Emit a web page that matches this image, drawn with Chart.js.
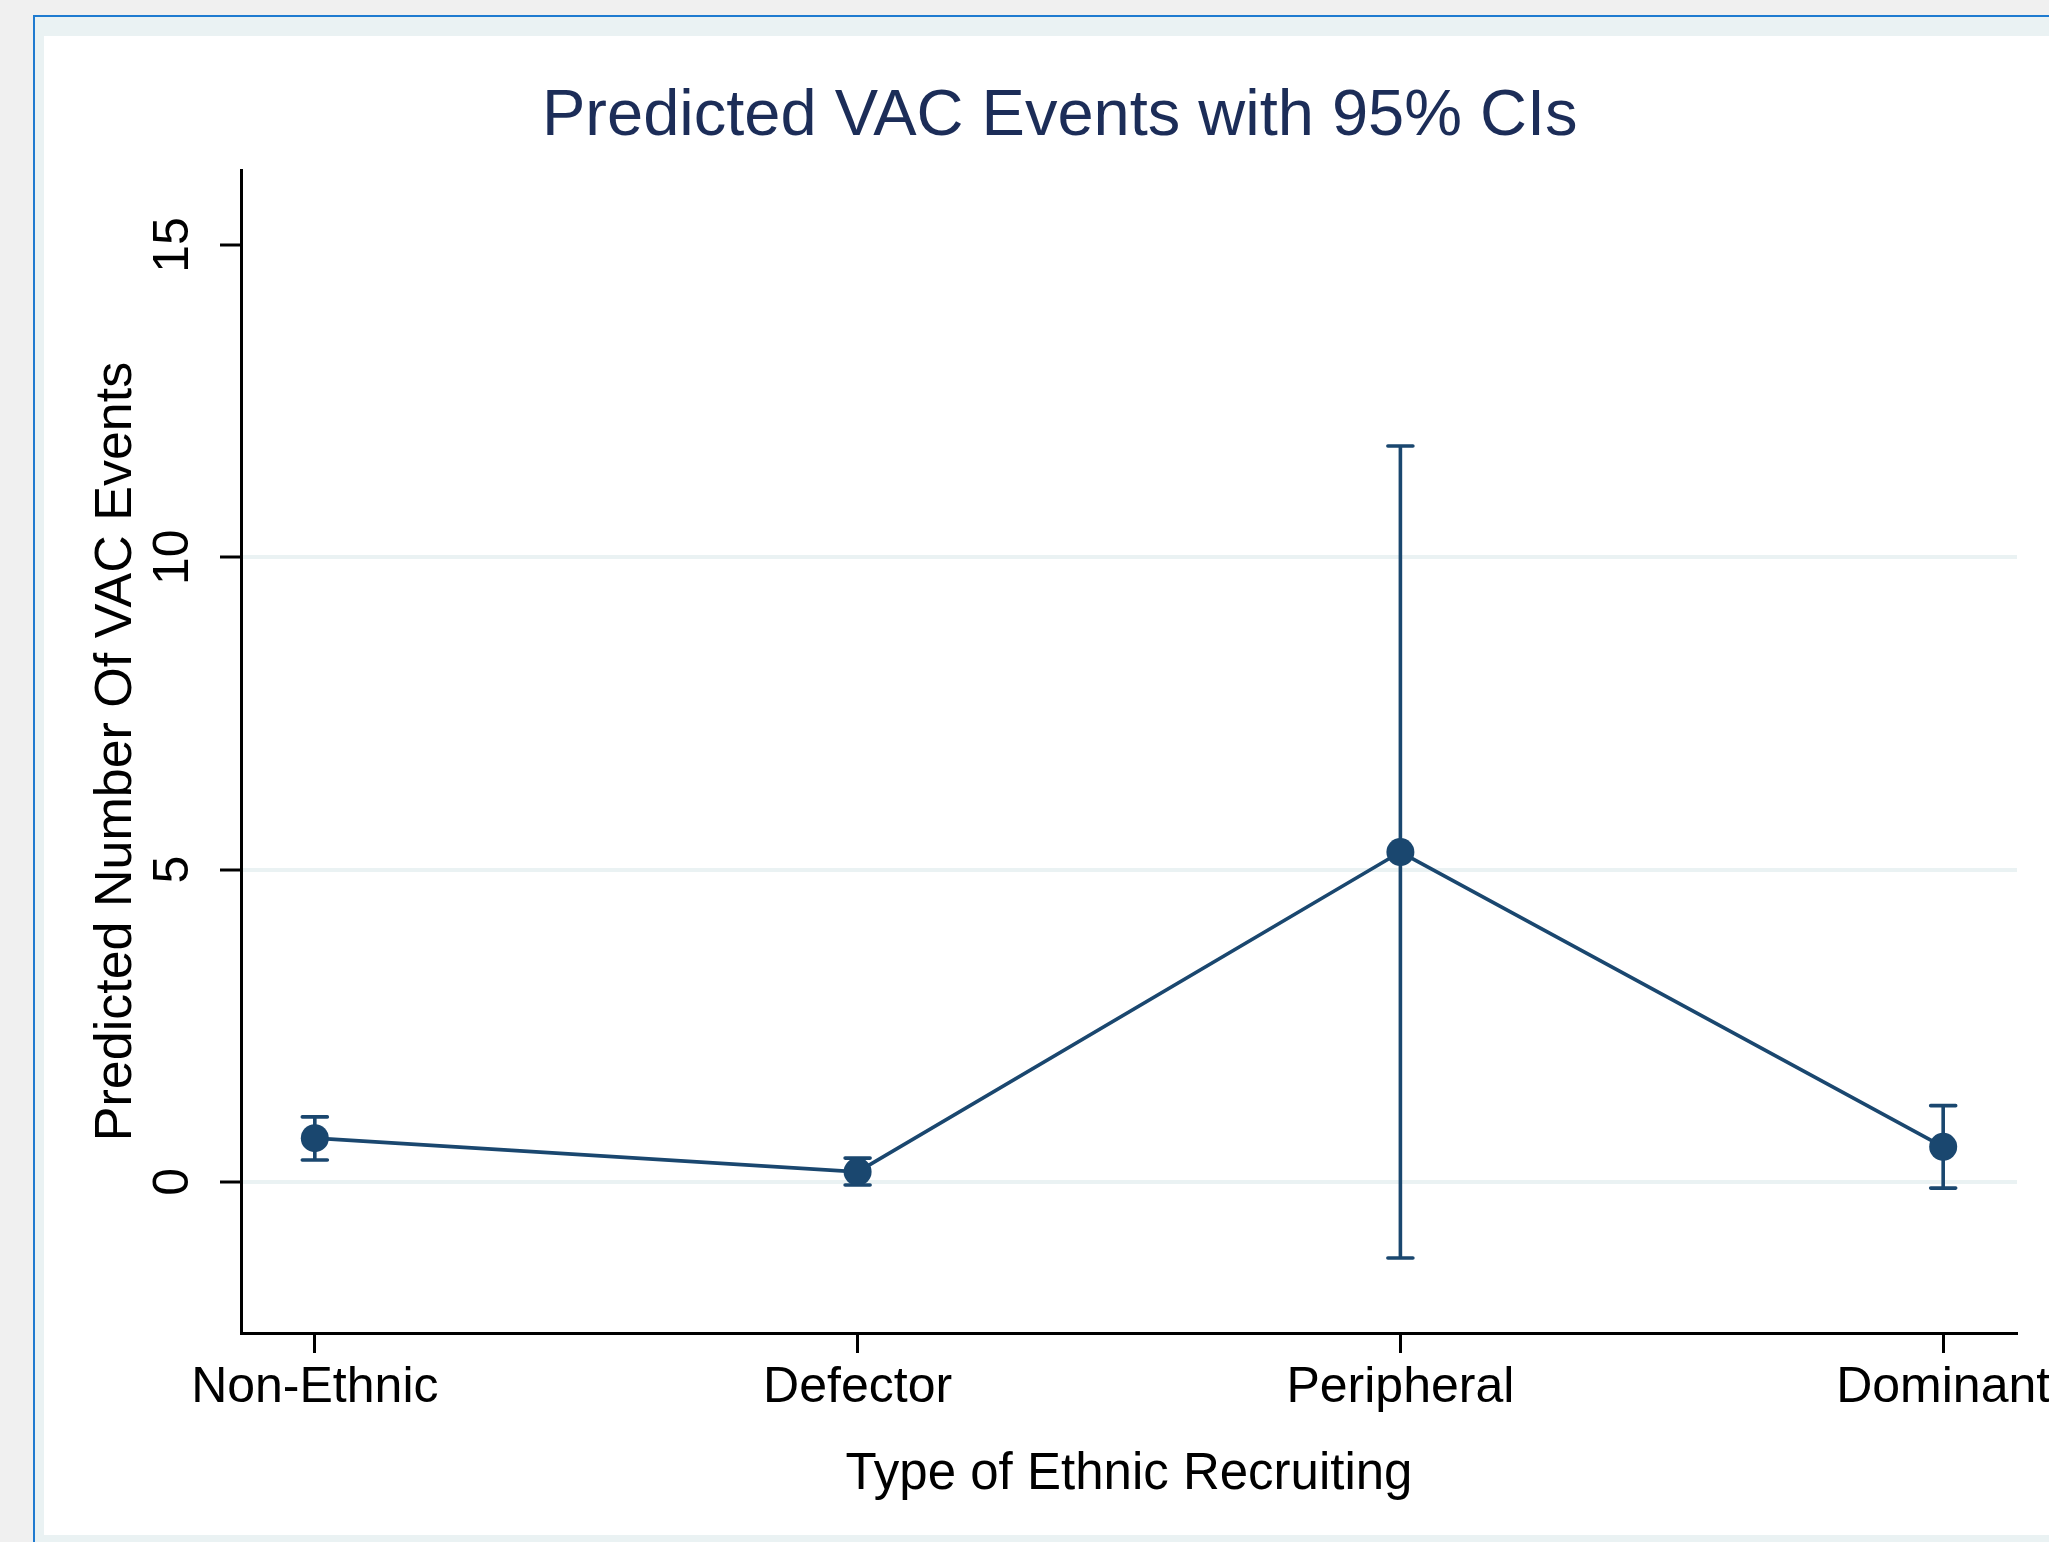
<!DOCTYPE html>
<html>
<head>
<meta charset="utf-8">
<script src="https://cdn.jsdelivr.net/npm/chart.js@4"></script>
<style>
  html, body { margin: 0; padding: 0; background: #f0f0f0; overflow: hidden; }
  canvas { display: block; }
</style>
</head>
<body>
<canvas id="vacChart" width="2049" height="1542"></canvas>
<script>
// data
const categories = ['Non-Ethnic', 'Defector', 'Peripheral', 'Dominant'];
const predicted = [0.70, 0.16, 5.28, 0.56];
const ciLower = [0.35, -0.05, -1.22, -0.10];
const ciUpper = [1.04, 0.38, 11.78, 1.22];
const yTicks = [0, 5, 10, 15];

const navy = '#1a476f';
const font = 'Liberation Sans, Arial, Helvetica, sans-serif';

// stata-like page frame behind the chart
const frame = {
    id: 'frame',
    beforeDraw(chart) {
        const ctx = chart.ctx;
        ctx.save();
        ctx.fillStyle = '#f0f0f0';
        ctx.fillRect(0, 0, chart.width, chart.height);
        ctx.fillStyle = '#1f7bd0';
        ctx.fillRect(33, 15, chart.width, chart.height);
        ctx.fillStyle = '#eaf2f3';
        ctx.fillRect(35, 17, chart.width, chart.height);
        ctx.fillStyle = '#ffffff';
        ctx.fillRect(44, 36, chart.width, 1535 - 36);
        ctx.fillStyle = '#1c2d58';
        ctx.font = '65px ' + font;
        ctx.textAlign = 'left';
        ctx.textBaseline = 'alphabetic';
        ctx.fillText('Predicted VAC Events with 95% CIs', 542, 135);
        ctx.restore();
    }
};

// 95% CI whiskers with caps
const errorBars = {
    id: 'errorBars',
    beforeDatasetsDraw(chart) {
        const { ctx, scales: { x, y } } = chart;
        ctx.save();
        ctx.strokeStyle = navy;
        ctx.lineWidth = 3.6;
        ctx.lineCap = 'round';
        categories.forEach((c, i) => {
            const px = x.getPixelForValue(i);
            const lo = y.getPixelForValue(ciLower[i]);
            const hi = y.getPixelForValue(ciUpper[i]);
            ctx.beginPath();
            ctx.moveTo(px, lo); ctx.lineTo(px, hi);
            ctx.moveTo(px - 12.5, lo); ctx.lineTo(px + 12.5, lo);
            ctx.moveTo(px - 12.5, hi); ctx.lineTo(px + 12.5, hi);
            ctx.stroke();
        });
        ctx.restore();
    }
};

new Chart(document.getElementById('vacChart'), {
    type: 'line',
    data: {
        datasets: [{
            data: predicted.map((v, i) => ({ x: i, y: v })),
            borderColor: navy,
            backgroundColor: navy,
            borderWidth: 3.6,
            pointRadius: 14,
            pointBorderWidth: 0,
            pointBackgroundColor: navy,
            tension: 0
        }]
    },
    options: {
        responsive: false,
        devicePixelRatio: 1,
        animation: false,
        layout: { padding: { left: 44, top: 170, right: 32, bottom: 0 } },
        plugins: {
            legend: { display: false },
            tooltip: { enabled: false }
        },
        scales: {
            x: {
                type: 'linear',
                min: -0.136,
                max: 3.136,
                afterBuildTicks: scale => { scale.ticks = categories.map((c, i) => ({ value: i })); },
                afterFit: scale => {
                    scale.height = 209;
                    scale.paddingLeft = 0;
                    scale.paddingRight = 0;
                },
                ticks: {
                    autoSkip: false,
                    maxRotation: 0,
                    padding: 5,
                    color: '#000',
                    font: { family: font, size: 50 },
                    callback: v => categories[v]
                },
                grid: {
                    drawOnChartArea: false,
                    drawTicks: true,
                    tickLength: 20,
                    tickWidth: 3,
                    tickColor: '#000'
                },
                border: { color: '#000', width: 3 },
                title: {
                    display: true,
                    text: 'Type of Ethnic Recruiting',
                    color: '#000',
                    font: { family: font, size: 51 },
                    padding: { top: 0, bottom: 36 }
                }
            },
            y: {
                min: -2.42,
                max: 16.2,
                afterBuildTicks: scale => { scale.ticks = yTicks.map(v => ({ value: v })); },
                afterFit: scale => {
                    scale.width = 197;
                    scale.paddingTop = 0;
                    scale.paddingBottom = 0;
                },
                ticks: {
                    minRotation: 90,
                    maxRotation: 90,
                    crossAlign: 'center',
                    padding: 18,
                    color: '#000',
                    font: { family: font, size: 50 }
                },
                grid: {
                    color: ctx => (ctx.tick && ctx.tick.value === 15) ? 'rgba(0,0,0,0)' : '#eaf2f3',
                    lineWidth: 4,
                    drawTicks: true,
                    tickLength: 21,
                    tickWidth: 3,
                    tickColor: '#000'
                },
                border: { color: '#000', width: 3 },
                title: {
                    display: true,
                    text: 'Predicted Number Of VAC Events',
                    color: '#000',
                    font: { family: font, size: 52 },
                    padding: { top: 41, bottom: 0 }
                }
            }
        }
    },
    plugins: [frame, errorBars]
});
</script>
</body>
</html>
